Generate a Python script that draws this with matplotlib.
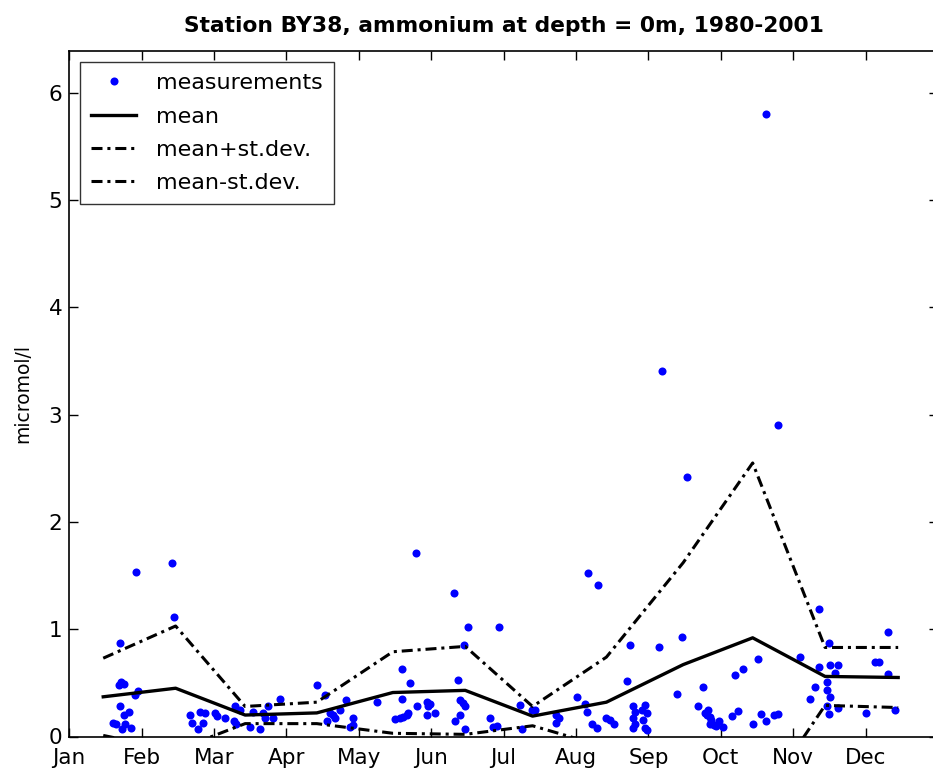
import matplotlib
matplotlib.use("Agg")
import matplotlib.pyplot as plt
import numpy as np

plt.rcParams['font.family'] = ['DejaVu Sans']

# Month axis (1 = start of January)
month_ticks = [1, 2, 3, 4, 5, 6, 7, 8, 9, 10, 11, 12]
month_labels = ['Jan', 'Feb', 'Mar', 'Apr', 'May', 'Jun',
                'Jul', 'Aug', 'Sep', 'Oct', 'Nov', 'Dec']

# Monthly statistics, placed at mid-month
stat_month = [1.47, 2.47, 3.43, 4.42, 5.47, 6.47, 7.40, 8.42, 9.48, 10.44, 11.44, 12.45]
mean_val = [0.37, 0.45, 0.20, 0.22, 0.41, 0.43, 0.19, 0.32, 0.67, 0.92, 0.56, 0.55]
std_val = [0.36, 0.58, 0.08, 0.10, 0.38, 0.41, 0.09, 0.42, 0.95, 1.63, 0.27, 0.28]

# Individual measurements (fractional month, micromol/l)
meas_month = [
    1.92, 2.42, 2.45, 1.70, 1.72, 1.76, 1.69, 1.95, 1.91, 1.70, 1.82, 1.75, 1.60, 1.65, 1.77, 1.73, 1.86,
    2.67, 2.69, 2.81, 2.88, 2.85, 2.78, 3.01, 3.04, 3.15, 3.29, 3.36, 3.27, 3.31, 3.50, 3.64, 3.54, 3.68,
    3.75, 3.70, 3.82, 3.91,
    4.42, 4.53, 4.60, 4.65, 4.67, 4.56, 4.74, 4.83, 4.88, 4.92, 4.92,
    5.25, 5.59, 5.71, 5.59, 5.50, 5.57, 5.61, 5.66, 5.68, 5.80, 5.79, 5.94, 5.98, 5.96, 5.94, 6.05,
    6.31, 6.37, 6.40, 6.44, 6.47, 6.40, 6.33, 6.47, 6.45, 6.51,
    6.93, 6.81, 6.86, 6.91, 7.22, 7.25, 7.39, 7.43,
    7.73, 7.76, 7.73, 8.01, 8.16, 8.31, 8.12, 8.15, 8.22, 8.29, 8.42, 8.47, 8.52,
    8.70, 8.75, 8.79, 8.81, 8.79, 8.81, 8.79, 8.95, 8.91, 8.98, 8.93, 8.95, 8.98, 9.19, 9.14, 9.47,
    9.53, 9.39,
    9.75, 9.69, 9.78, 9.83, 9.85, 9.87, 9.85, 9.90, 9.94, 10.03, 9.81, 9.97, 10.20, 10.31, 10.52,
    10.15, 10.24, 10.44, 10.55, 10.63, 10.73, 10.79, 10.63, 10.79,
    11.09, 11.35, 11.49, 11.35, 11.51, 11.62, 11.58, 11.46, 11.46, 11.30, 11.23, 11.51, 11.46, 11.62,
    11.49,
    12.01, 12.13, 12.18, 12.31, 12.31, 12.40,
]
meas_value = [
    1.53, 1.62, 1.11, 0.87, 0.51, 0.49, 0.48, 0.42, 0.39, 0.28, 0.23, 0.20, 0.13, 0.12, 0.12, 0.07, 0.08,
    0.20, 0.13, 0.23, 0.22, 0.13, 0.07, 0.22, 0.19, 0.17, 0.28, 0.25, 0.14, 0.12, 0.09, 0.07, 0.23, 0.22,
    0.28, 0.17, 0.17, 0.35,
    0.48, 0.39, 0.22, 0.20, 0.17, 0.14, 0.25, 0.34, 0.09, 0.17, 0.11,
    0.32, 0.63, 0.50, 0.35, 0.16, 0.17, 0.18, 0.20, 0.22, 0.28, 1.71, 0.32, 0.30, 0.28, 0.20, 0.22,
    1.34, 0.53, 0.34, 0.31, 0.28, 0.20, 0.14, 0.07, 0.85, 1.02,
    1.02, 0.17, 0.09, 0.10, 0.29, 0.07, 0.25, 0.25,
    0.20, 0.17, 0.13, 0.37, 1.52, 1.41, 0.30, 0.23, 0.12, 0.08, 0.17, 0.15, 0.12,
    0.52, 0.85, 0.28, 0.23, 0.17, 0.12, 0.08, 0.29, 0.25, 0.22, 0.15, 0.08, 0.06, 3.41, 0.83, 0.93,
    2.42, 0.40,
    0.46, 0.28, 0.22, 0.25, 0.18, 0.15, 0.12, 0.11, 0.10, 0.09, 0.20, 0.14, 0.57, 0.63, 0.72,
    0.19, 0.24, 0.12, 0.21, 0.14, 0.20, 0.21, 5.80, 2.90,
    0.74, 1.19, 0.87, 0.65, 0.67, 0.67, 0.59, 0.51, 0.43, 0.46, 0.35, 0.37, 0.28, 0.27,
    0.21,
    0.22, 0.69, 0.69, 0.97, 0.58, 0.25,
]

mean_arr = np.array(mean_val)
std_arr = np.array(std_val)

W, H = 933, 776
fig = plt.figure(figsize=(W / 100, H / 100), dpi=100)
ax = fig.add_axes([69.2 / W, 39.5 / H, (938 - 69.2) / W, (736.5 - 51) / H])

dashdot = (0, (3.6, 1.6, 1.0, 1.6))
ax.plot(meas_month, meas_value, linestyle='none', marker='o', ms=5.8,
        mfc=(0, 0, 1), mec=(0, 0, 1), mew=0, label='measurements')
ax.plot(stat_month, mean_arr, color='black', lw=2.4, label='mean')
ax.plot(stat_month, mean_arr + std_arr, color='black', lw=2.2,
        linestyle=dashdot, label='mean+st.dev.')
ax.plot(stat_month, mean_arr - std_arr, color='black', lw=2.2,
        linestyle=dashdot, label='mean-st.dev.')

ax.set_xlim(1, 13)
ax.set_ylim(0, 6.39)
ax.set_xticks(month_ticks)
ax.set_xticklabels(month_labels)
ax.set_yticks([0, 1, 2, 3, 4, 5, 6])

ax.tick_params(axis='both', which='both', direction='in', length=6.5, width=1.0,
               top=True, right=True, labelsize=15.5, colors='black')
ax.tick_params(axis='x', pad=8)
ax.tick_params(axis='y', pad=5)
for sp in ax.spines.values():
    sp.set_linewidth(1.2)
    sp.set_color('black')

ax.set_ylabel('micromol/l', fontsize=13.5, labelpad=12)
ax.set_title('Station BY38, ammonium at depth = 0m, 1980-2001',
             fontsize=15.7, fontweight='bold', pad=14)

leg = ax.legend(loc='upper left', fontsize=16, frameon=True, fancybox=False,
                borderpad=0.5, labelspacing=0.6, handlelength=2.0,
                handletextpad=0.9, borderaxespad=0.5, numpoints=1)
leg.get_frame().set_edgecolor('black')
leg.get_frame().set_linewidth(1.0)

fig.savefig('out.png', dpi=100)
